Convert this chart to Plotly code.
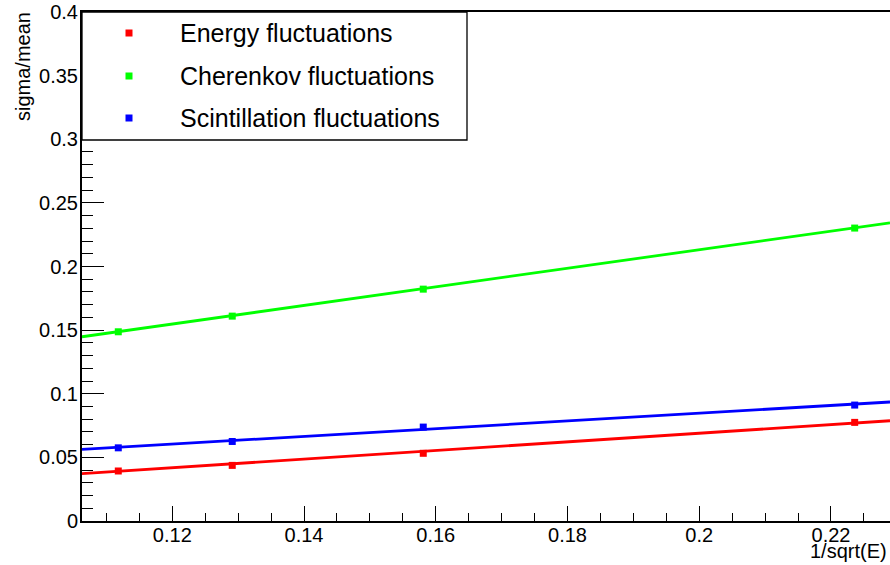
import plotly.graph_objects as go

# Data
inv_sqrt_e = [0.1118, 0.1291, 0.1581, 0.2236]
energy_fluct = [0.0393, 0.0437, 0.0532, 0.0775]
cherenkov_fluct = [0.1487, 0.1610, 0.1822, 0.2302]
scint_fluct = [0.0575, 0.0625, 0.0738, 0.0911]

# Fit line endpoints (at the axis range edges)
fit_x = [0.10629, 0.22896]
energy_fit = [0.0372, 0.0788]
cherenkov_fit = [0.1448, 0.2343]
scint_fit = [0.0563, 0.0935]

series_names = ["Energy fluctuations", "Cherenkov fluctuations", "Scintillation fluctuations"]
colors = ["#ff0000", "#00ff00", "#0000ff"]

FONT = "Liberation Sans, Arial, Helvetica, sans-serif"

PW, PH = 808, 509  # plot area size in px

fig = go.Figure()
for fit, vals, col, name in [
    (cherenkov_fit, cherenkov_fluct, colors[1], series_names[1]),
    (scint_fit, scint_fluct, colors[2], series_names[2]),
    (energy_fit, energy_fluct, colors[0], series_names[0]),
]:
    fig.add_trace(go.Scatter(x=fit_x, y=fit, mode="lines",
                             line=dict(color=col, width=2.8), showlegend=False, hoverinfo="skip"))
    fig.add_trace(go.Scatter(x=inv_sqrt_e, y=vals, mode="markers", name=name,
                             marker=dict(symbol="square", size=7, color=col), showlegend=False))

# Legend (ROOT-style box)
shapes = [dict(type="rect", xref="paper", yref="paper", x0=0, x1=385 / PW, y0=(521 - 140) / PH, y1=1,
               line=dict(color="black", width=1.3), fillcolor="white", layer="above")]
annotations = []
rows_y = [33, 76, 118]
for i, (name, col) in enumerate(zip(series_names, colors)):
    yc = (521 - rows_y[i]) / PH
    xc = (129 - 82) / PW
    shapes.append(dict(type="rect", xref="paper", yref="paper",
                       x0=xc - 3.5 / PW, x1=xc + 3.5 / PW, y0=yc - 3.5 / PH, y1=yc + 3.5 / PH,
                       line=dict(width=0), fillcolor=col, layer="above"))
    annotations.append(dict(text=name, xref="paper", yref="paper", x=(178 - 82) / PW, y=yc,
                            xanchor="left", yanchor="middle", showarrow=False,
                            font=dict(size=25, color="black", family=FONT)))

# Axis titles
annotations.append(dict(text="sigma/mean", xref="paper", yref="paper", x=-(82 - 22.5) / PW,
                        y=(521 - 10) / PH, xanchor="center", yanchor="top", textangle=-90,
                        showarrow=False, font=dict(size=20, color="black", family=FONT)))
annotations.append(dict(text="1/sqrt(E)", xref="paper", yref="paper", x=(889 - 82) / PW,
                        y=-(551 - 521) / PH, xanchor="right", yanchor="middle",
                        showarrow=False, font=dict(size=20, color="black", family=FONT)))

fig.update_layout(
    width=890, height=565,
    margin=dict(l=82, r=0, t=12, b=44, autoexpand=False),
    plot_bgcolor="white", paper_bgcolor="white",
    font=dict(family=FONT, size=20, color="black"),
    shapes=shapes, annotations=annotations,
    showlegend=False,
)
fig.update_xaxes(range=fit_x, showgrid=False, zeroline=False, showline=True, linecolor="black",
                 linewidth=2, mirror=True, ticks="inside", ticklen=15, tickwidth=1.3, tickcolor="black",
                 dtick=0.02, tick0=0, automargin=False, ticklabeloverflow="allow",
                 minor=dict(ticks="inside", ticklen=8, dtick=0.005, tick0=0, tickwidth=1.3, tickcolor="black"),
                 tickfont=dict(size=20, family=FONT), ticklabelstandoff=-5)
fig.update_yaxes(range=[0, 0.4], showgrid=False, zeroline=False, showline=True, linecolor="black",
                 linewidth=2, mirror=False, ticks="inside", ticklen=22, tickwidth=1.3, tickcolor="black",
                 dtick=0.05, tick0=0, automargin=False, ticklabeloverflow="allow",
                 minor=dict(ticks="inside", ticklen=11, dtick=0.01, tick0=0, tickwidth=1.3, tickcolor="black"),
                 tickfont=dict(size=20, family=FONT), ticklabelstandoff=-2)

fig.write_html("out.html", config={"displayModeBar": False},
               post_script="document.body.style.margin='0';")
